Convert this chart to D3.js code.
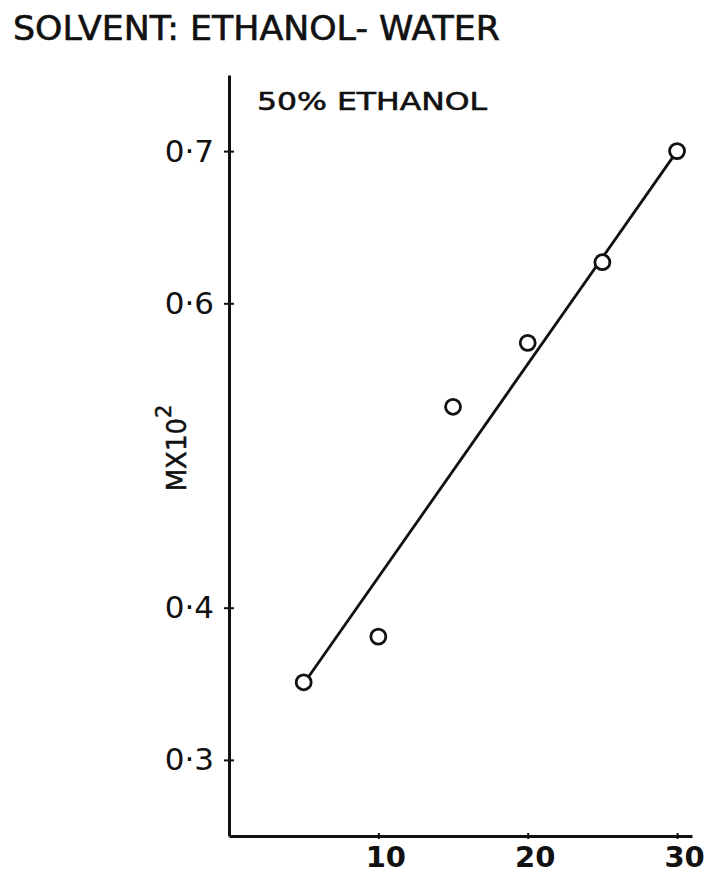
<!DOCTYPE html>
<html>
<head>
<meta charset="utf-8">
<script src="https://cdn.jsdelivr.net/npm/d3@7"></script>
<style>
  body { margin: 0; background: #fff; }
  text { font-family: "DejaVu Sans", sans-serif; fill: #111; }
</style>
</head>
<body>
<div id="chart"></div>
<script>
// data
var ethanolPct = [5, 10, 15, 20, 25, 30];
var mValues = [0.351, 0.381, 0.532, 0.574, 0.627, 0.700];
// least squares line as drawn
var fitX = [5, 30];
var fitY = [0.35, 0.70];

var xTicks = [10, 20, 30];
var yTicks = [0.3, 0.4, 0.6, 0.7];
var yTickLabels = ["0·3", "0·4", "0·6", "0·7"];

var svgWidth = 710;
var svgHeight = 874;

var svg = d3.select("#chart")
  .append("svg")
  .attr("width", svgWidth)
  .attr("height", svgHeight);

var x = d3.scaleLinear().domain([0, 31]).range([229, 692]);
var y = d3.scaleLinear().domain([0.25, 0.75]).range([836, 75]);

// titles
svg.append("text")
  .attr("x", 13)
  .attr("y", 40)
  .attr("font-size", 33)
  .attr("stroke", "#111")
  .attr("stroke-width", 0.6)
  .attr("textLength", 487)
  .attr("lengthAdjust", "spacingAndGlyphs")
  .text("SOLVENT:  ETHANOL- WATER");

svg.append("text")
  .attr("x", 257)
  .attr("y", 110)
  .attr("font-size", 25)
  .attr("stroke", "#111")
  .attr("stroke-width", 0.6)
  .attr("textLength", 230)
  .attr("lengthAdjust", "spacingAndGlyphs")
  .text("50% ETHANOL");

// y axis
var yAxis = d3.axisLeft(y)
  .tickValues(yTicks)
  .tickFormat(function(d, i) { return yTickLabels[i]; })
  .tickSizeOuter(0)
  .tickPadding(9);

var gy = svg.append("g")
  .attr("transform", "translate(" + x(0) + ",0)")
  .call(yAxis);
gy.select(".domain").attr("stroke", "#111").attr("stroke-width", 3);
gy.selectAll(".tick line")
  .attr("x1", -5).attr("x2", 5)
  .attr("stroke", "#111").attr("stroke-width", 2);
gy.selectAll(".tick text")
  .attr("font-size", 31)
  .attr("font-family", "DejaVu Sans")
  .attr("fill", "#111");

// x axis
var xAxis = d3.axisBottom(x)
  .tickValues(xTicks)
  .tickSizeOuter(0);

var gx = svg.append("g")
  .attr("transform", "translate(0," + y(0.25) + ")")
  .call(xAxis);
gx.select(".domain").attr("stroke", "#111").attr("stroke-width", 3);
gx.selectAll(".tick line")
  .attr("y1", -3).attr("y2", 3)
  .attr("stroke", "#111").attr("stroke-width", 2);
gx.selectAll(".tick text")
  .attr("font-size", 29)
  .attr("font-weight", "bold")
  .attr("font-family", "DejaVu Sans")
  .attr("fill", "#111")
  .attr("x", 7)
  .attr("y", 31)
  .attr("dy", 0);

// y axis label
var ylab = svg.append("text")
  .attr("transform", "translate(186,448) rotate(-90)")
  .attr("text-anchor", "middle")
  .attr("font-size", 26)
  .attr("stroke", "#111")
  .attr("stroke-width", 0.5)
  .text("MX10");
ylab.append("tspan")
  .attr("dy", -15)
  .attr("font-size", 21)
  .text("2");

// fitted line
var line = d3.line()
  .x(function(d) { return x(d[0]); })
  .y(function(d) { return y(d[1]); });

svg.append("path")
  .datum(d3.zip(fitX, fitY))
  .attr("d", line)
  .attr("fill", "none")
  .attr("stroke", "#111")
  .attr("stroke-width", 2.8);

// points
svg.selectAll("circle.pt")
  .data(d3.zip(ethanolPct, mValues))
  .enter().append("circle")
  .attr("class", "pt")
  .attr("cx", function(d) { return x(d[0]); })
  .attr("cy", function(d) { return y(d[1]); })
  .attr("r", 7.5)
  .attr("fill", "#fff")
  .attr("stroke", "#111")
  .attr("stroke-width", 2.8);
</script>
</body>
</html>
